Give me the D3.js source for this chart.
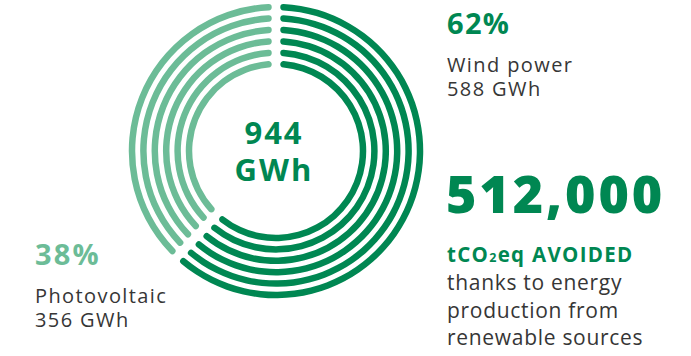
<!DOCTYPE html>
<html>
<head>
<meta charset="utf-8">
<script src="https://cdn.jsdelivr.net/npm/d3@7"></script>
<style>
  body { margin: 0; background: #fff; }
  svg { display: block; font-family: "Open Sans", sans-serif; }
</style>
</head>
<body>
<div id="chart"></div>
<script>
// Energy production by source
const sources = ["Wind power", "Photovoltaic"];
const energyGWh = [588, 356];
const sharePct = [62, 38];
const totalGWh = 944;
const rings = [0, 1, 2, 3, 4, 5];   // the same split repeated on six rings
const avoidedLabel = "512,000";
const avoidedLines = ["thanks to energy", "production from", "renewable sources"];

const colors = ["#008752", "#6cbc97"];
const textGrey = "#363636";

const width = 691, height = 356;
const cx = 276, cy = 151;

const svg = d3.select("#chart").append("svg")
    .attr("width", width)
    .attr("height", height);

// radius of each ring's centre line
const r = d3.scaleLinear().domain([0, rings.length - 1]).range([144, 87]);
const thick = 6.5;

const pie = d3.pie().sort(null).value(d => d).padAngle(0.085);
const slices = pie(energyGWh);

const g = svg.append("g").attr("transform", `translate(${cx},${cy})`);

rings.forEach(i => {
    const arc = d3.arc()
        .innerRadius(r(i) - thick / 2)
        .outerRadius(r(i) + thick / 2)
        .cornerRadius(thick / 2)
        .padRadius(100);
    g.selectAll(null)
        .data(slices)
        .enter().append("path")
        .attr("d", arc)
        .attr("fill", (d, j) => colors[j]);
});

// Centre total, two lines in one text
const centre = g.append("text")
    .attr("text-anchor", "middle")
    .attr("font-size", 31).attr("font-weight", 700)
    .attr("letter-spacing", 2)
    .attr("fill", colors[0]);
centre.append("tspan").attr("x", -2).attr("y", -7).text(totalGWh);
centre.append("tspan").attr("x", -2).attr("y", 30).text("GWh");

// Source labels
const labelPos = [{ x: 447, y: 34 }, { x: 35, y: 265 }];
sources.forEach((name, i) => {
    const p = labelPos[i];
    svg.append("text")
        .attr("x", p.x).attr("y", p.y)
        .attr("font-size", 29).attr("font-weight", 700)
        .attr("letter-spacing", i === 0 ? 1.3 : 2.2)
        .attr("fill", colors[i])
        .text(sharePct[i] + "%");
    const t = svg.append("text")
        .attr("font-size", 20)
        .attr("letter-spacing", 1.4)
        .attr("fill", textGrey);
    t.append("tspan").attr("x", p.x).attr("y", p.y + 38).text(name);
    t.append("tspan").attr("x", p.x).attr("y", p.y + 62).text(energyGWh[i] + " GWh");
});

// Avoided emissions block
svg.append("text")
    .attr("x", 446).attr("y", 213)
    .attr("font-size", 52).attr("font-weight", 800)
    .attr("letter-spacing", 2.9)
    .attr("fill", colors[0])
    .text(avoidedLabel);

const co2 = svg.append("text")
    .attr("x", 447).attr("y", 262)
    .attr("font-size", 20.5).attr("font-weight", 700)
    .attr("letter-spacing", 1.3)
    .attr("fill", colors[0]);
co2.append("tspan").text("tCO");
co2.append("tspan").attr("font-size", 12.5).text("2");
co2.append("tspan").text("eq AVOIDED");

const body = svg.append("text")
    .attr("font-size", 21)
    .attr("letter-spacing", 0.7)
    .attr("fill", textGrey);
avoidedLines.forEach((line, i) => {
    body.append("tspan")
        .attr("x", 447).attr("y", 290 + i * 27.5)
        .text(line);
});
</script>
</body>
</html>
